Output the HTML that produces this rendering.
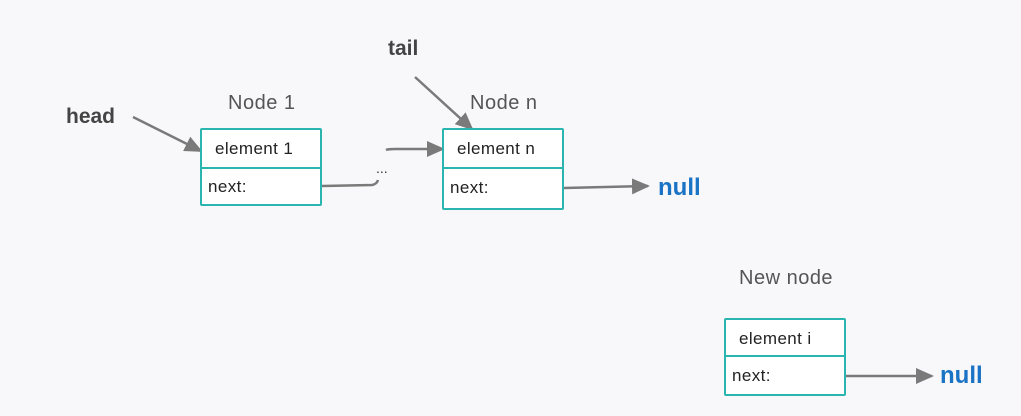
<!DOCTYPE html>
<html><head><style>
body{margin:0;width:1021px;height:416px;background:#f8f8fa;font-family:"Liberation Sans",sans-serif;position:relative;overflow:hidden}
.t{position:absolute;white-space:nowrap}
.box{position:absolute;width:118px;border:2px solid #2bb5b0;border-radius:2px;background:#fff}
.box div{font-size:17px;color:#222;letter-spacing:0.4px}
</style></head><body>
<svg width="1021" height="416" style="position:absolute;left:0;top:0">
<defs>
<marker id="b" markerWidth="18" markerHeight="16" refX="16" refY="8" orient="auto" markerUnits="userSpaceOnUse" viewBox="0 0 18 16"><path d="M0,0 L18,8 L0,16z" fill="#7a7a7a"/></marker></defs>
<g stroke="#7a7a7a" stroke-width="2.5" fill="none">
<line x1="133" y1="117" x2="201" y2="151" marker-end="url(#b)"/>
<line x1="415" y1="77" x2="472" y2="129" marker-end="url(#b)"/>
<path d="M322,186 L372,185 Q377,184 378,180"/>
<path d="M386,150 Q388,149 395,149 L443,149" marker-end="url(#b)"/>
<line x1="564" y1="188" x2="648" y2="186" marker-end="url(#b)"/>
<line x1="846" y1="376" x2="932" y2="376" marker-end="url(#b)"/>
</g></svg>
<div class="t" style="left:66px;top:105px;font-size:21px;font-weight:bold;color:#444">head</div>
<div class="t" style="left:388px;top:37px;font-size:21px;font-weight:bold;color:#444">tail</div>
<div class="t" style="left:228px;top:92px;font-size:20px;color:#555;letter-spacing:0.5px">Node 1</div>
<div class="t" style="left:470px;top:92px;font-size:20px;color:#555;letter-spacing:0.5px">Node n</div>
<div class="t" style="left:739px;top:267px;font-size:20px;color:#555;letter-spacing:0.5px">New node</div>
<div class="t" style="left:376px;top:160px;font-size:14px;color:#333">...</div>
<div class="t" style="left:658px;top:174px;font-size:24px;font-weight:bold;color:#1a73c4">null</div>
<div class="t" style="left:940px;top:362px;font-size:24px;font-weight:bold;color:#1a73c4">null</div>
<div class="box" style="left:200px;top:128px;height:74px">
<div style="height:37px;border-bottom:2px solid #2bb5b0;line-height:37px;padding-left:13px">element 1</div>
<div style="line-height:35px;padding-left:6px">next:</div></div>
<div class="box" style="left:442px;top:128px;height:78px">
<div style="height:37px;border-bottom:2px solid #2bb5b0;line-height:37px;padding-left:13px">element n</div>
<div style="line-height:37px;padding-left:6px">next:</div></div>
<div class="box" style="left:724px;top:318px;height:74px">
<div style="height:35px;border-bottom:2px solid #2bb5b0;line-height:37px;padding-left:13px">element i</div>
<div style="line-height:37px;padding-left:6px">next:</div></div>
</body></html>
